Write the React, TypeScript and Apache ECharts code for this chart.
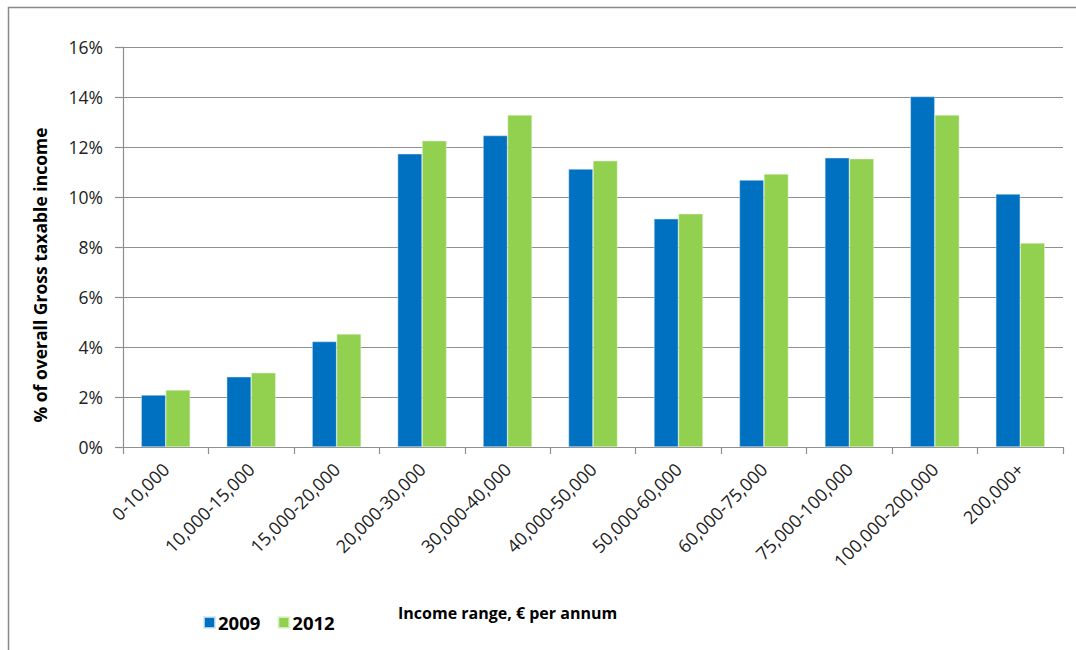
import React, { useEffect, useRef } from "react";
import * as echarts from "echarts";

const categories = [
  "0-10,000",
  "10,000-15,000",
  "15,000-20,000",
  "20,000-30,000",
  "30,000-40,000",
  "40,000-50,000",
  "50,000-60,000",
  "60,000-75,000",
  "75,000-100,000",
  "100,000-200,000",
  "200,000+",
];

// Share of overall gross taxable income, in percent
const share2009 = [2.08, 2.81, 4.22, 11.73, 12.46, 11.12, 9.13, 10.68, 11.57, 14.02, 10.12];
const share2012 = [2.28, 2.97, 4.52, 12.25, 13.28, 11.45, 9.33, 10.92, 11.53, 13.28, 8.16];

const yTicks = { min: 0, max: 16, interval: 2 };

const FONT = "'Open Sans', 'Noto Sans', sans-serif";
const BLUE = "#0070C0";
const GREEN = "#92D050";
const GRID_GRAY = "#8f8f8f";

export default function App() {
  const ref = useRef<HTMLDivElement>(null);

  useEffect(() => {
    if (!ref.current) return;
    const chart = echarts.init(ref.current, null, { renderer: "svg" });
    chart.setOption({
      animation: false,
      backgroundColor: "#ffffff",
      textStyle: { fontFamily: FONT },
      grid: { left: 123, right: 13, top: 47, bottom: 203, containLabel: false },
      legend: {
        left: 198,
        top: 608,
        icon: "rect",
        itemWidth: 11,
        itemHeight: 11,
        itemGap: 17,
        textStyle: { fontFamily: FONT, fontSize: 18.5, fontWeight: "bold", color: "#000", padding: [0, 0, 0, -2] },
        data: ["2009", "2012"],
      },
      graphic: [
        {
          type: "rect",
          shape: { x: 8.5, y: 7.5, width: 1200, height: 800 },
          style: { fill: "none", stroke: "#898989", lineWidth: 1.5 },
          silent: true,
        },
        {
          type: "text",
          x: 398,
          y: 613,
          style: {
            text: "Income range, € per annum",
            fontFamily: FONT,
            fontSize: 16,
            fontWeight: "bold",
            fill: "#000",
            verticalAlign: "middle",
          },
        },
        {
          type: "text",
          x: 40,
          y: 275,
          rotation: Math.PI / 2,
          style: {
            text: "% of overall Gross taxable income",
            fontFamily: FONT,
            fontSize: 17.5,
            fontWeight: "bold",
            fill: "#000",
            align: "center",
            verticalAlign: "middle",
          },
        },
      ],
      xAxis: {
        type: "category",
        data: categories,
        axisLine: { show: true, lineStyle: { color: GRID_GRAY, width: 1.2 } },
        axisTick: { show: true, length: 7, interval: 0, lineStyle: { color: GRID_GRAY, width: 1.2 } },
        axisLabel: {
          interval: 0,
          rotate: 45,
          margin: 19,
          fontFamily: FONT,
          fontSize: 18,
          color: "#222",
        },
      },
      yAxis: {
        type: "value",
        min: yTicks.min,
        max: yTicks.max,
        interval: yTicks.interval,
        axisLine: { show: true, lineStyle: { color: GRID_GRAY, width: 1.2 } },
        axisTick: { show: true, length: 8, lineStyle: { color: GRID_GRAY, width: 1.2 } },
        axisLabel: {
          margin: 20,
          fontFamily: FONT,
          fontSize: 17.5,
          color: "#222",
          formatter: "{value}%",
        },
        splitLine: { show: true, lineStyle: { color: GRID_GRAY, width: 1.2 } },
      },
      series: [
        {
          name: "2009",
          type: "bar",
          data: share2009,
          barWidth: 24.5,
          barGap: "0%",
          itemStyle: { color: BLUE, borderColor: "rgba(210,230,245,0.8)", borderWidth: 0.6 },
        },
        {
          name: "2012",
          type: "bar",
          data: share2012,
          barWidth: 24.5,
          barGap: "0%",
          itemStyle: { color: GREEN, borderColor: "rgba(225,245,210,0.8)", borderWidth: 0.6 },
        },
      ],
    });
    return () => chart.dispose();
  }, []);

  return (
    <div
      ref={ref}
      style={{ position: "absolute", left: 0, top: 0, width: 1076, height: 650 }}
    />
  );
}
